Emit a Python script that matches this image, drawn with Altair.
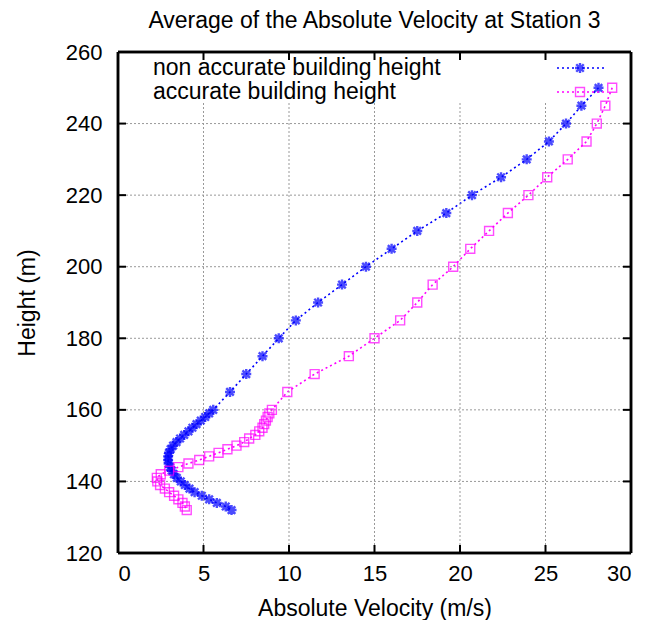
import altair as alt
import pandas as pd

# ---- data ----
heights = [250, 245, 240, 235, 230, 225, 220, 215, 210, 205, 200, 195, 190, 185, 180, 175, 170, 165,
           160, 159, 158, 157, 156, 155, 154, 153, 152, 151, 150, 149, 148, 147, 146, 145, 144, 143,
           142, 141, 140, 139, 138, 137, 136, 135, 134, 133, 132]

non_accurate = [28.1, 27.1, 26.2, 25.2, 23.9, 22.4, 20.7, 19.2, 17.5, 16.0, 14.5, 13.1, 11.7, 10.4, 9.4, 8.45, 7.5, 6.55,
                5.57, 5.33, 5.10, 4.84, 4.59, 4.35, 4.12, 3.87, 3.63, 3.42, 3.22, 3.08, 2.98, 2.93, 2.93, 2.96, 3.05, 3.14,
                3.27, 3.44, 3.67, 3.91, 4.18, 4.48, 4.90, 5.33, 5.78, 6.30, 6.64]

accurate = [28.9, 28.5, 28.0, 27.4, 26.3, 25.1, 24.0, 22.8, 21.7, 20.6, 19.6, 18.4, 17.5, 16.5, 15.0, 13.5, 11.5, 9.9,
            9.0, 8.85, 8.75, 8.65, 8.55, 8.45, 8.26, 8.03, 7.67, 7.38, 6.93, 6.40, 5.88, 5.33, 4.75, 4.12, 3.53, 2.99,
            2.50, 2.27, 2.30, 2.46, 2.74, 2.99, 3.28, 3.53, 3.77, 3.91, 4.02]

series_names = ["non accurate building height", "accurate building height"]
series_colors = ["#0000ff", "#ff00ff"]

x_ticks = [0, 5, 10, 15, 20, 25, 30]
y_ticks = [120, 140, 160, 180, 200, 220, 240, 260]
x_grid = [5, 10, 15, 20, 25]
y_grid = [140, 160, 180, 200, 220, 240]

TITLE = "Average of the Absolute Velocity at Station 3"
FONT = "Liberation Sans"

W, H = 513, 501

rows = []
for name, vals in zip(series_names, [non_accurate, accurate]):
    for i, (h, v) in enumerate(zip(heights, vals)):
        rows.append({"series": name, "idx": i, "height": h, "velocity": v})
df = pd.DataFrame(rows)
leg = pd.DataFrame({"series": series_names})

xscale = alt.Scale(domain=[0, 30], nice=False, zero=False)
yscale = alt.Scale(domain=[120, 260], nice=False, zero=False)
color_scale = alt.Scale(domain=series_names, range=series_colors)

x_axis = alt.Axis(values=x_ticks, grid=False, ticks=False, domain=False, labelFontSize=22,
                  labelFont=FONT, labelColor="black", labelPadding=10, title="Absolute Velocity (m/s)",
                  titleFont=FONT, titleFontSize=23, titleFontWeight="normal", titleColor="black",
                  titlePadding=13)
y_axis = alt.Axis(values=y_ticks, grid=False, ticks=False, domain=False, labelFontSize=22,
                  labelFont=FONT, labelColor="black", labelPadding=16, title="Height (m)",
                  titleFont=FONT, titleFontSize=23, titleFontWeight="normal", titleColor="black",
                  titlePadding=26)

grid_style = dict(color="#999999", strokeDash=[2, 2], strokeWidth=1)

X = lambda f: alt.X(f, scale=xscale, axis=x_axis)
Y = lambda f: alt.Y(f, scale=yscale, axis=y_axis)

base = alt.Chart(df).encode(
    x=X("velocity:Q"), y=Y("height:Q"),
    color=alt.Color("series:N", scale=color_scale, legend=None),
    order=alt.Order("idx:Q"),
)
lines = base.mark_line(strokeDash=[2, 3], strokeWidth=1.6)

ASTER = "M-1,0L1,0M0,-1L0,1M-0.75,-0.75L0.75,0.75M-0.75,0.75L0.75,-0.75"
blue_pts = base.transform_filter(alt.datum.series == series_names[0]).mark_point(
    shape=ASTER, size=100, strokeWidth=2.4, filled=False)
pink_pts = base.transform_filter(alt.datum.series == series_names[1]).mark_point(
    shape="square", size=80, strokeWidth=1.4, filled=False)

vgrid = alt.Chart(pd.DataFrame({"velocity": x_grid})).mark_rule(**grid_style).encode(
    x=X("velocity:Q"), y=alt.value(H), y2=alt.value(51))
hgrid = alt.Chart(pd.DataFrame({"height": y_grid})).mark_rule(**grid_style).encode(
    y=Y("height:Q"), x=alt.value(0), x2=alt.value(W))

tick_style = dict(color="black", strokeWidth=2)
xt = pd.DataFrame({"velocity": x_ticks})
yt = pd.DataFrame({"height": y_ticks})
tb = alt.Chart(xt).mark_rule(**tick_style).encode(x=X("velocity:Q"), y=alt.value(H), y2=alt.value(H - 8))
tt = alt.Chart(xt).mark_rule(**tick_style).encode(x=X("velocity:Q"), y=alt.value(0), y2=alt.value(8))
tl = alt.Chart(yt).mark_rule(**tick_style).encode(y=Y("height:Q"), x=alt.value(0), x2=alt.value(8))
tr = alt.Chart(yt).mark_rule(**tick_style).encode(y=Y("height:Q"), x=alt.value(W - 8), x2=alt.value(W))

# plot frame
frame_style = dict(color="black", strokeWidth=2.5)
fr = [
    alt.Chart(leg).mark_rule(**frame_style).encode(x=alt.value(0), x2=alt.value(W), y=alt.value(0)),
    alt.Chart(leg).mark_rule(**frame_style).encode(x=alt.value(0), x2=alt.value(W), y=alt.value(H)),
    alt.Chart(leg).mark_rule(**frame_style).encode(x=alt.value(0), y=alt.value(0), y2=alt.value(H)),
    alt.Chart(leg).mark_rule(**frame_style).encode(x=alt.value(W), y=alt.value(0), y2=alt.value(H)),
]

# key (legend) drawn inside the plot at the top
def key_row(i, ypix, shape, size, sw):
    d = alt.Chart(leg).transform_filter(alt.datum.series == series_names[i])
    txt = d.mark_text(align="left", baseline="middle", fontSize=23, font=FONT, color="black").encode(
        text="series:N", x=alt.value(35), y=alt.value(ypix))
    ln = d.mark_rule(strokeDash=[2, 3], strokeWidth=1.6).encode(
        x=alt.value(439), x2=alt.value(487), y=alt.value(ypix),
        color=alt.Color("series:N", scale=color_scale, legend=None))
    pt = d.mark_point(shape=shape, size=size, strokeWidth=sw, filled=False).encode(
        x=alt.value(462), y=alt.value(ypix), color=alt.Color("series:N", scale=color_scale, legend=None))
    return [txt, ln, pt]

keys = key_row(0, 16, ASTER, 100, 2.4) + key_row(1, 40, "square", 80, 1.4)

chart = alt.layer(lines, vgrid, hgrid, tb, tt, tl, tr, blue_pts, pink_pts, *fr, *keys).properties(
    width=W, height=H,
    title=alt.TitleParams(TITLE, fontSize=23, font=FONT, fontWeight="normal", color="black",
                          anchor="middle", offset=8),
    autosize=alt.AutoSizeParams(type="none"),
    padding={"left": 110, "top": 44, "right": 9, "bottom": 67},
).configure_view(stroke=None).configure(background="white")

chart.save("out.html", embed_options={"renderer": "svg", "actions": False})
